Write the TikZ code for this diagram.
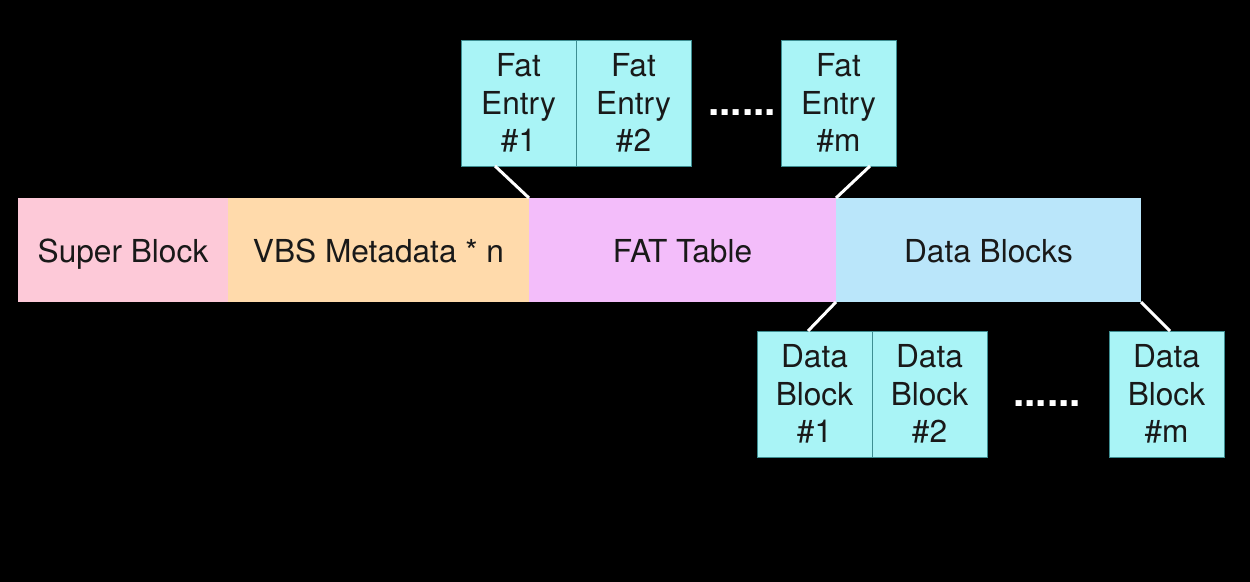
\documentclass[tikz,border=0pt]{standalone}
\usepackage{fontspec}
\setmainfont{TeX Gyre Heros}
\usetikzlibrary{positioning}
\definecolor{superpink}{HTML}{FDC9D8}
\definecolor{vbsorange}{HTML}{FFDAAB}
\definecolor{fatviolet}{HTML}{F3BDFA}
\definecolor{datablue}{HTML}{BAE6FA}
\definecolor{cellcyan}{HTML}{A9F4F6}
\definecolor{celledge}{HTML}{3E8E92}

\begin{document}
\begin{tikzpicture}[
                    seg/.style={rectangle, minimum height=2.08cm, inner sep=0pt, outer sep=0pt, text height=18pt, text depth=4pt, text=black!90, font=\fontsize{18}{21.4}\selectfont},
                    cell/.style={rectangle, draw=celledge, fill=cellcyan, line width=0.5pt, minimum width=2.3cm, minimum height=2.52cm, inner sep=0pt, outer sep=0pt, text=black!90, font=\fontsize{18}{21.4}\selectfont},
                    gap/.style={text=white, inner sep=0pt, font=\fontsize{23}{23}\selectfont\bfseries},
                    link/.style={white, line width=1.7pt},
                    node distance=0pt,
                    align=center,
                ]
                \fill[black] (0,0) rectangle (25,-11.64);

                \node[seg, fill=superpink, minimum width=4.2cm, anchor=north west] (super) at (0.36,-3.96) {Super Block};
                \node[seg, fill=vbsorange, minimum width=6.02cm] (vbs) [right=of super] {VBS Metadata * n};
                \node[seg, fill=fatviolet, minimum width=6.14cm] (fat) [right=of vbs] {FAT Table};
                \node[seg, fill=datablue, minimum width=6.1cm] (data) [right=of fat] {Data Blocks};

                \node[cell, anchor=north west] (entry1) at (9.22,-0.8) {Fat\\ Entry\\ \#1};
                \node[cell] (entry2) [right=of entry1] {Fat\\ Entry\\ \#2};
                \node[cell] (entrym) [right=1.8cm of entry2] {Fat\\ Entry\\ \#m};
                \node[gap, anchor=west] (dotsup) [right=0.34cm of entry2, yshift=-0.2cm] {......};

                \node[cell, anchor=north west] (block1) at (15.14,-6.62) {Data\\ Block\\ \#1};
                \node[cell] (block2) [right=of block1] {Data\\ Block\\ \#2};
                \node[cell] (blockm) [right=2.44cm of block2] {Data\\ Block\\ \#m};
                \node[gap, anchor=west] (dotsdown) [right=0.52cm of block2, yshift=-0.2cm] {......};

                \draw[link] ([xshift=0.68cm]entry1.south west) -- (fat.north west);
                \draw[link] ([xshift=-0.52cm]entrym.south east) -- (fat.north east);
                \draw[link] (data.south west) -- ([xshift=1.02cm]block1.north west);
                \draw[link] (data.south east) -- ([xshift=1.22cm]blockm.north west);
            \end{tikzpicture}
\end{document}
